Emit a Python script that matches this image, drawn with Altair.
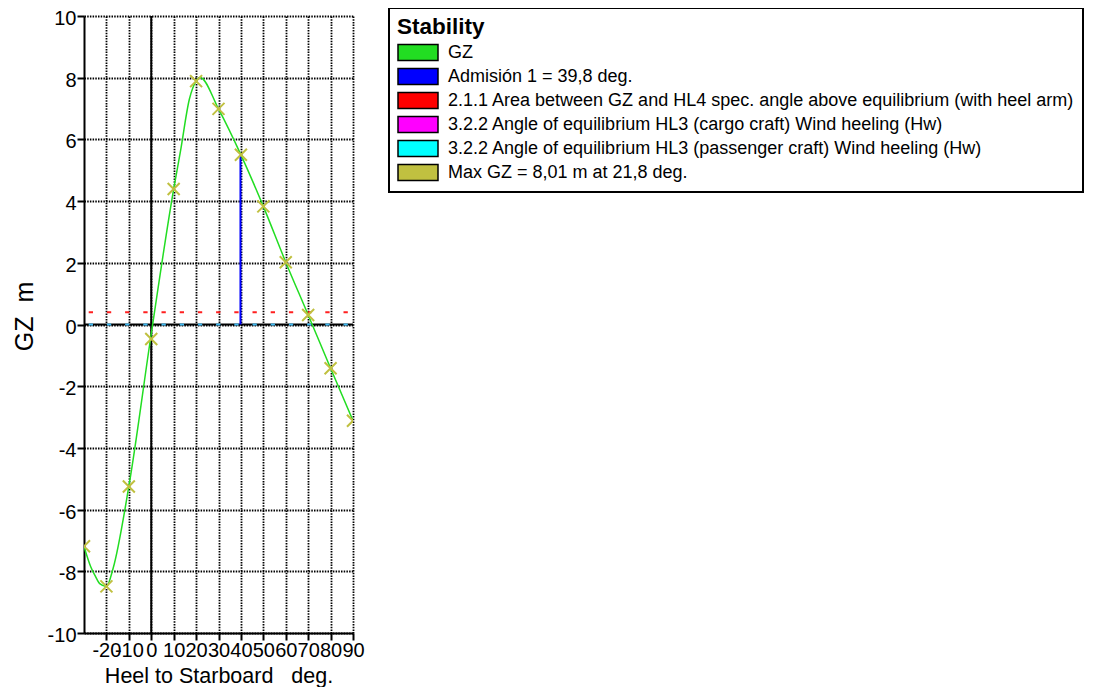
import altair as alt
import pandas as pd

# ---- data ----
heel_deg = [-30, -20, -10, 0, 10, 20, 30, 40, 50, 60, 70, 80, 90]
gz_m = [-7.19, -8.49, -5.25, -0.47, 4.39, 7.89, 6.99, 5.50, 3.83, 2.02, 0.31, -1.42, -3.12]

curve_heel = [-30, -27, -25, -23, -20, -17, -10, 0, 10, 13, 17, 20, 21.8, 30, 40, 50, 60, 70, 80, 90]
curve_gz = [-7.19, -7.85, -8.15, -8.40, -8.49, -7.90, -5.25, -0.30, 4.39, 5.60, 7.30, 7.89, 8.01,
            6.99, 5.50, 3.83, 2.02, 0.31, -1.42, -3.12]

x_ticks = [-20, -10, 0, 10, 20, 30, 40, 50, 60, 70, 80, 90]
y_ticks = [-10, -8, -6, -4, -2, 0, 2, 4, 6, 8, 10]

admision_angle = [39.8]
admision_gz = [5.46]
hl4_level = [0.40]
hl3_level = [0.0]

legend_labels = [
    "GZ",
    "Admisión 1 = 39,8 deg.",
    "2.1.1 Area between GZ and HL4 spec. angle above equilibrium (with heel arm)",
    "3.2.2 Angle of equilibrium HL3 (cargo craft) Wind heeling (Hw)",
    "3.2.2 Angle of equilibrium HL3 (passenger craft) Wind heeling (Hw)",
    "Max GZ = 8,01 m at 21,8 deg.",
]
legend_colors = ["#22dd22", "#0000ff", "#ff0000", "#ff00ff", "#00ffff", "#c0c040"]

FONT = "Liberation Sans"

pts = pd.DataFrame({"heel": heel_deg, "gz": gz_m})
curve = pd.DataFrame({"heel": curve_heel, "gz": curve_gz})
adm = pd.DataFrame({"heel": admision_angle, "gz": admision_gz, "base": [0.0]})
hl4 = pd.DataFrame({"gz": hl4_level})
hl3 = pd.DataFrame({"gz": hl3_level})
vzero = pd.DataFrame({"heel": [0.0]})
leg = pd.DataFrame({"series": legend_labels, "heel": [0.0] * 6, "gz": [0.0] * 6})

xs = alt.Scale(domain=[-30, 90], nice=False, zero=False)
ys = alt.Scale(domain=[-10, 10], nice=False, zero=False)

x_axis = alt.Axis(values=x_ticks, title="Heel to Starboard\u00a0\u00a0\u00a0deg.", labelOverlap=False,
                  labelFlush=False, grid=True, labelPadding=0, labelExpr="'' + datum.value",
                  labelFont=FONT, labelFontSize=20,
                  titleY=49, titleBaseline="alphabetic", titleFontSize=21.5)
y_axis = alt.Axis(values=y_ticks, title="GZ\u00a0\u00a0m", labelOverlap=False, labelFlush=False,
                  grid=True, labelPadding=1, labelExpr="'' + datum.value", labelOffset=2.5,
                  labelFont=FONT, labelFontSize=20,
                  titleX=-60, titleY=300, titleBaseline="middle", titleFontSize=25)


def X(field="heel"):
    return alt.X(f"{field}:Q", scale=xs, axis=x_axis)


def Y(field="gz"):
    return alt.Y(f"{field}:Q", scale=ys, axis=y_axis)


zero_h = alt.Chart(hl3).mark_rule(color="black", strokeWidth=2).encode(y=Y())
zero_v = alt.Chart(vzero).mark_rule(color="black", strokeWidth=2).encode(x=X())

red = alt.Chart(hl4).mark_rule(color="#ff2020", strokeWidth=2, strokeDash=[4.3, 13.9],
                               strokeDashOffset=13).encode(y=Y())
cyan = alt.Chart(hl3).mark_rule(color="#40b8f0", strokeWidth=2, strokeDash=[4.3, 13.9],
                                strokeDashOffset=13).encode(y=Y())

blue = alt.Chart(adm).mark_rule(color="#0000ff", strokeWidth=2).encode(
    x=X(), y=Y("base"), y2="gz:Q")

line = alt.Chart(curve).mark_line(color="#22dd22", strokeWidth=1.5, clip=True,
                                  interpolate="monotone").encode(x=X(), y=Y(), order="heel:Q")

markers = alt.Chart(pts).mark_point(shape="M-1,-1L1,1M-1,1L1,-1", size=144, filled=False,
                                    color="#c0c040", strokeWidth=2, opacity=1, clip=True).encode(
    x=X(), y=Y())

legend_layer = alt.Chart(leg).mark_square(opacity=0, filled=True).encode(
    x=X(), y=Y(),
    color=alt.Color("series:N", sort=None,
                    scale=alt.Scale(domain=legend_labels, range=legend_colors),
                    legend=alt.Legend(
                        title="Stability", orient="none", legendX=305, legendY=-8,
                        symbolType="M-1,-0.4H1V0.4H-1Z", symbolSize=1600,
                        symbolStrokeColor="black", symbolStrokeWidth=1.5, symbolOpacity=1,
                        labelFont=FONT, labelFontSize=18, labelColor="black", labelOffset=9,
                        labelLimit=0, titleFont=FONT, titleFontSize=22.5, titleFontWeight="bold",
                        titleColor="black", titlePadding=3, fillColor="white", strokeColor="black",
                        padding=8, rowPadding=2, clipHeight=22)))

chart = alt.layer(zero_h, zero_v, red, cyan, blue, line, markers, legend_layer).properties(
    width=269, height=617, autosize=alt.AutoSizeParams(type="none"),
    padding={"left": 76, "top": 8, "right": 735, "bottom": 54},
).configure_view(stroke=None).configure_axis(
    domainColor="black", domainWidth=2, tickColor="black", tickWidth=2, tickSize=7,
    labelColor="black",
    titleFont=FONT, titleFontWeight="normal", titleColor="black",
    gridColor="black", gridDash=[1.5, 1.2], gridWidth=1.8, gridOpacity=1,
).configure_legend(strokeWidth=2)

chart.save("out.html", embed_options={"renderer": "svg", "actions": False})
